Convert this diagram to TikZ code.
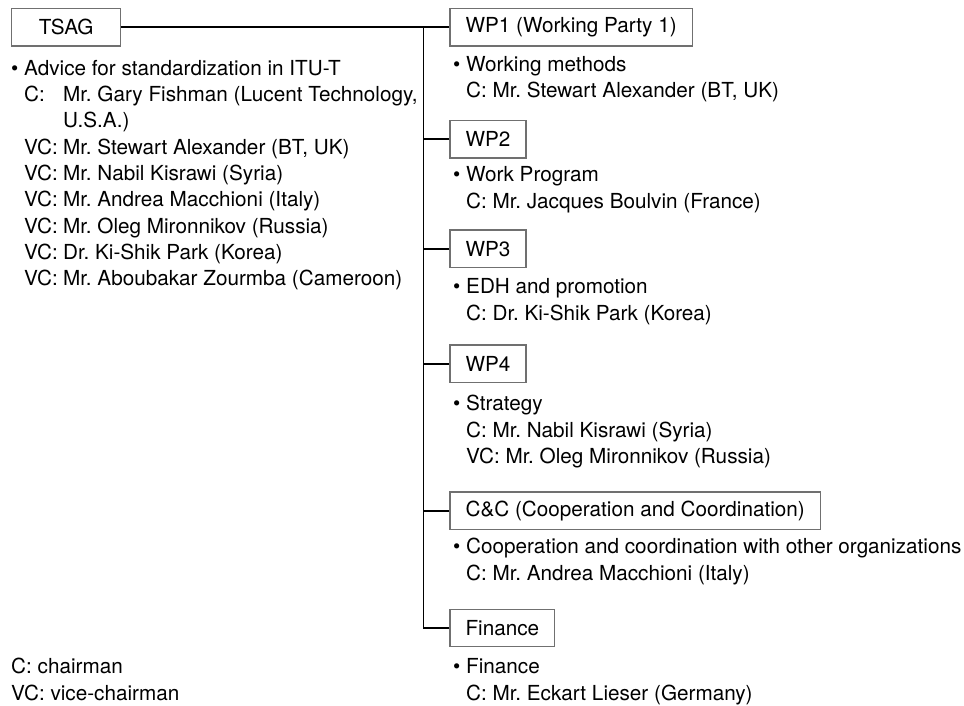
\documentclass[tikz,border=0pt]{standalone}
\usepackage{fontspec}
\setmainfont{TeX Gyre Heros}
\definecolor{boxgray}{RGB}{112,112,112}
\frenchspacing
\begin{document}
\frenchspacing
\begin{tikzpicture}[x=1pt,y=-1pt,
  every node/.style={font=\fontsize{20.7pt}{26.33pt}\selectfont\frenchspacing},
  box/.style={draw=boxgray, line width=1.3pt, minimum height=37.5pt, inner xsep=15.5pt, inner ysep=0pt, anchor=west},
  conn/.style={line width=1.8pt, draw=black},
  txt/.style={anchor=base west, inner sep=0pt},
]
\useasboundingbox (0,0) rectangle (964,705);

% boxes
\node[box, minimum width=109pt, inner xsep=0pt] (tsag) at (11,27.2) {TSAG};
\node[box] (wp1) at (449.4,27.2) {WP1 (Working Party 1)};
\node[box] (wp2) at (449.4,139.3) {WP2};
\node[box] (wp3) at (449.4,248.8) {WP3};
\node[box] (wp4) at (449.4,363.8) {WP4};
\node[box] (cc) at (449.4,510.8) {C\&C (Cooperation and Coordination)};
\node[box] (fin) at (449.4,628) {Finance};

% connectors
\coordinate (ttop) at (423.4,27.2);
\coordinate (tbot) at (423.4,628);
\draw[conn] (tsag.east) -- (wp1.west);
\draw[conn] (ttop) -- (tbot);
\draw[conn] (wp2.west) -- (wp2.west -| ttop);
\draw[conn] (wp3.west) -- (wp3.west -| ttop);
\draw[conn] (wp4.west) -- (wp4.west -| ttop);
\draw[conn] (cc.west) -- (cc.west -| ttop);
\draw[conn] (fin.west) -- (tbot);

% TSAG text
\node[txt] (tb) at (10.8,75) {•};
\node[txt] (t1) at (24,75) {Advice for standardization in ITU-T};
\node[txt] (t2) at (24,101.3) {\makebox[39pt][l]{C:}Mr. Gary Fishman (Lucent Technology,};
\node[txt] (t3) at (63,127.7) {U.S.A.)};
\node[txt] (t4) at (24,154) {\makebox[39pt][l]{VC:}Mr. Stewart Alexander (BT, UK)};
\node[txt] (t5) at (24,180.3) {\makebox[39pt][l]{VC:}Mr. Nabil Kisrawi (Syria)};
\node[txt] (t6) at (24,206.7) {\makebox[39pt][l]{VC:}Mr. Andrea Macchioni (Italy)};
\node[txt] (t7) at (24,233) {\makebox[39pt][l]{VC:}Mr. Oleg Mironnikov (Russia)};
\node[txt] (t8) at (24,259.3) {\makebox[39pt][l]{VC:}Dr. Ki-Shik Park (Korea)};
\node[txt] (t9) at (24,285.7) {\makebox[39pt][l]{VC:}Mr. Aboubakar Zourmba (Cameroon)};

% legend
\node[txt] (lg1) at (11,673.3) {C: chairman};
\node[txt] (lg2) at (11,700) {VC: vice-chairman};

% WP1
\node[txt] (w1b) at (453,71) {•};
\node[txt] (w1a) at (466,71) {Working methods};
\node[txt] (w1c) at (466,97.3) {C: Mr. Stewart Alexander (BT, UK)};
% WP2
\node[txt] (w2b) at (453,181.7) {•};
\node[txt] (w2a) at (466,181.7) {Work Program};
\node[txt] (w2c) at (466,208.3) {C: Mr. Jacques Boulvin (France)};
% WP3
\node[txt] (w3b) at (453,293.3) {•};
\node[txt] (w3a) at (466,293.3) {EDH and promotion};
\node[txt] (w3c) at (466,320) {C: Dr. Ki-Shik Park (Korea)};
% WP4
\node[txt] (w4b) at (453,410.7) {•};
\node[txt] (w4a) at (466,410.7) {Strategy};
\node[txt] (w4c) at (466,437) {C: Mr. Nabil Kisrawi (Syria)};
\node[txt] (w4d) at (466,463.3) {VC: Mr. Oleg Mironnikov (Russia)};
% C&C
\node[txt] (ccb) at (453,553.3) {•};
\node[txt] (cca) at (466,553.3) {Cooperation and coordination with other organizations};
\node[txt] (ccc) at (466,580) {C: Mr. Andrea Macchioni (Italy)};
% Finance
\node[txt] (fb) at (453,673.3) {•};
\node[txt] (fa) at (466,673.3) {Finance};
\node[txt] (fc) at (466,700) {C: Mr. Eckart Lieser (Germany)};
\end{tikzpicture}
\end{document}
